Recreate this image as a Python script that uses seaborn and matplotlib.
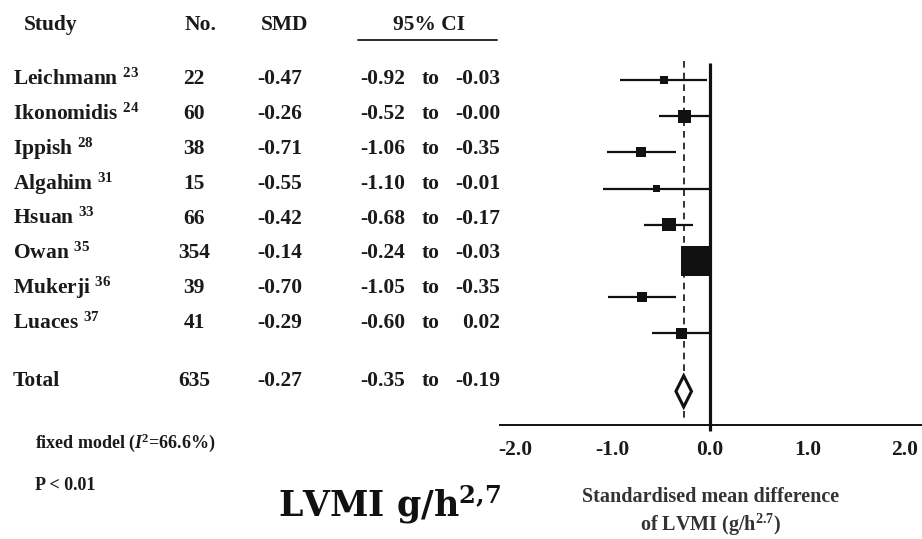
import matplotlib
matplotlib.use("Agg")
import matplotlib.pyplot as plt
import seaborn as sns
import numpy as np
import pandas as pd

# ---------------- data ----------------
studies = ["Leichmann", "Ikonomidis", "Ippish", "Algahim", "Hsuan", "Owan", "Mukerji", "Luaces"]
refs = ["23", "24", "28", "31", "33", "35", "36", "37"]
n_patients = [22, 60, 38, 15, 66, 354, 39, 41]
smd = [-0.47, -0.26, -0.71, -0.55, -0.42, -0.14, -0.70, -0.29]
ci_lo = [-0.92, -0.52, -1.06, -1.10, -0.68, -0.24, -1.05, -0.60]
ci_hi = [-0.03, -0.00, -0.35, -0.01, -0.17, -0.03, -0.35, 0.02]
total_n = 635
total_smd = -0.27
total_lo = -0.35
total_hi = -0.19
x_ticks = [-2.0, -1.0, 0.0, 1.0, 2.0]
model_note = "fixed model ($\\mathit{I}^{\\!\\mathbf{2}}$=66.6%)"
p_note = "P < 0.01"

# ---------------- style ----------------
sns.set_style("white")
plt.rcParams["font.family"] = ["Liberation Serif", "DejaVu Serif"]
plt.rcParams["font.weight"] = "bold"
plt.rcParams["axes.unicode_minus"] = False
plt.rcParams["mathtext.fontset"] = "custom"
plt.rcParams["mathtext.rm"] = "Liberation Serif:bold"
plt.rcParams["mathtext.bf"] = "Liberation Serif:bold"
plt.rcParams["mathtext.it"] = "Liberation Serif:italic:bold"

TXT = "#1a1a1a"
W, H = 922, 539
fig = plt.figure(figsize=(W / 100, H / 100), dpi=100)

# table axes in pixel-like units (x) and row units (y)
tx = fig.add_axes([0, 0, 1, 1], zorder=0)
tx.set_axis_off()
ROW0, ROWH = 79.0, 34.9
tx.set_xlim(0, W)
tx.set_ylim((H - ROW0) / ROWH, -ROW0 / ROWH)


def prow(px):
    return (px - ROW0) / ROWH


# forest axes
P0, PH = 80.0, 36.2
top_px, bot_px = 55.0, 425.0
ax = fig.add_axes([500 / W, (H - bot_px) / H, 422 / W, (bot_px - top_px) / H], zorder=2)
ax.patch.set_alpha(0)
ax.set_xlim(-2.154, 2.174)
ax.set_ylim((bot_px - P0) / PH, (top_px - P0) / PH)

rows = np.arange(len(studies))
total_row = 8.6

df = pd.DataFrame({"study": studies, "smd": smd, "lo": ci_lo, "hi": ci_hi, "row": rows})
# inverse-variance weight from CI width (for square size)
df["weight"] = 1.0 / ((df["hi"] - df["lo"]) / 3.92) ** 2

ax.hlines(df["row"], df["lo"], df["hi"], color="#111111", lw=1.6, zorder=3)
sns.scatterplot(data=df, x="smd", y="row", size="weight", sizes=(28, 480),
                marker="s", color="#111111", linewidth=0, legend=False, ax=ax, zorder=4)

# reference lines
ax.plot([0, 0], [(63 - P0) / PH, (431 - P0) / PH], color="#111111", lw=2.3,
        clip_on=False, solid_capstyle="butt", zorder=5)
ax.plot([total_smd, total_smd], [(61 - P0) / PH, (418 - P0) / PH], color="#111111", lw=1.2,
        ls=(0, (4, 3)), zorder=2, clip_on=False)

# diamond for pooled estimate
dh = 0.43
ax.fill([total_lo, total_smd, total_hi, total_smd],
        [total_row, total_row - dh, total_row, total_row + dh],
        facecolor="white", edgecolor="#111111", lw=2.2, zorder=6)

for s in ["top", "left", "right"]:
    ax.spines[s].set_visible(False)
ax.spines["bottom"].set_linewidth(1.4)
ax.spines["bottom"].set_color("#111111")
ax.set_yticks([])
ax.set_xticks(x_ticks)
ax.set_xticklabels([f"{t:.1f}" for t in x_ticks], fontsize=15.5, fontweight="bold", color=TXT)
ax.tick_params(axis="x", length=0, pad=11)
ax.set_xlabel("Standardised mean difference\nof LVMI (g/h$^{\\mathbf{2.7}}$)", fontsize=14.5,
              fontweight="bold", color="#333333", labelpad=19, linespacing=1.25)
ax.set_ylabel("")

# ---------------- table ----------------
fs = 15.5
hy = prow(25)
tx.text(24, hy, "Study", fontsize=fs, ha="left", va="center", color=TXT)
tx.text(201, hy, "No.", fontsize=fs, ha="center", va="center", color=TXT)
tx.text(284, hy, "SMD", fontsize=fs, ha="center", va="center", color=TXT)
tx.text(429, hy, "95% CI", fontsize=fs, ha="center", va="center", color=TXT)
tx.plot([358, 497], [prow(40), prow(40)], color=TXT, lw=1.3)


def row_text(r, name, nn, m, lo, hi):
    tx.text(13, r, name, fontsize=fs, ha="left", va="center", color=TXT)
    tx.text(194, r, f"{nn}", fontsize=fs, ha="center", va="center", color=TXT)
    tx.text(302, r, f"{m:.2f}", fontsize=fs, ha="right", va="center", color=TXT)
    tx.text(405, r, f"{lo:.2f}", fontsize=fs, ha="right", va="center", color=TXT)
    tx.text(431, r, "to", fontsize=fs, ha="center", va="center", color=TXT)
    tx.text(500, r, f"{hi:.2f}", fontsize=fs, ha="right", va="center", color=TXT)


for i in range(len(studies)):
    row_text(rows[i], f"{studies[i]} $^{{{refs[i]}}}$", n_patients[i], smd[i], ci_lo[i], ci_hi[i])
row_text(total_row + 0.05, "Total", total_n, total_smd, total_lo, total_hi)

tx.text(35, prow(443), model_note, fontsize=13, ha="left", va="center", color=TXT)
tx.text(35, prow(485), p_note, fontsize=13, ha="left", va="center", color=TXT)

tx.text(390, prow(505), "LVMI g/h$^{\\mathbf{2{,}7}}$", fontsize=25, fontfamily="DejaVu Serif",
        fontweight="bold", math_fontfamily="dejavuserif", ha="center", va="center", color="#111111")

fig.savefig("out.png", dpi=100)
